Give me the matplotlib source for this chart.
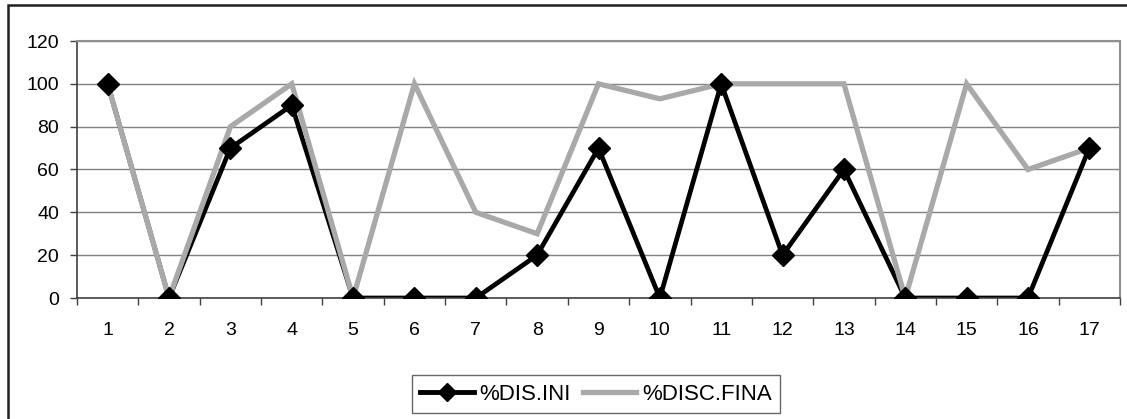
import numpy as np
import matplotlib.pyplot as plt
from matplotlib.patches import Rectangle
from matplotlib.lines import Line2D

plt.rcParams['font.family'] = ['Liberation Sans', 'DejaVu Sans']

categories = [str(i) for i in range(1, 18)]
dis_ini = [100, 0, 70, 90, 0, 0, 0, 20, 70, 0, 100, 20, 60, 0, 0, 0, 70]
disc_fina = [100, 0, 80, 100, 0, 100, 40, 30, 100, 93, 100, 100, 100, 0, 100, 60, 70]

W, H = 1127, 419
fig = plt.figure(figsize=(W / 100, H / 100), dpi=100)
ax = fig.add_axes([77 / W, 1 - 298 / H, (1120 - 77) / W, (298 - 41) / H])

gray = '#a9a9a9'
x = np.arange(len(categories))
# black line under the gray one, markers on top of both
ax.plot(x, dis_ini, color='black', lw=3.4, solid_joinstyle='miter', zorder=2)
ax.plot(x, disc_fina, color=gray, lw=3.8, solid_joinstyle='miter', zorder=3)
ax.plot(x, dis_ini, ls='none', marker='D', markersize=11.5, color='black', zorder=4)

ax.set_xlim(-0.5, len(categories) - 0.5)
ax.set_ylim(0, 120)
ax.set_yticks(range(0, 121, 20))
ax.yaxis.grid(True, color='#808080', lw=1)
ax.set_axisbelow(True)

ax.set_xticks(x)
ax.set_xticklabels(categories)
ax.set_xticks(np.arange(-0.5, len(categories)), minor=True)
ax.tick_params(axis='x', which='major', length=0, pad=17, labelsize=14)
ax.tick_params(axis='x', which='minor', length=5, color='#404040', width=1)
ax.tick_params(axis='y', length=5, color='#404040', width=1, pad=8, labelsize=14)

for side in ['top', 'right']:
    ax.spines[side].set_color('#909090')
    ax.spines[side].set_linewidth(1.5)
for side in ['left', 'bottom']:
    ax.spines[side].set_color('#404040')
    ax.spines[side].set_linewidth(1.2)

handles = [Line2D([], [], color='black', lw=3.5, marker='D', markersize=9),
           Line2D([], [], color=gray, lw=3.8)]
labels = ['%DIS.INI', '%DISC.FINA']
leg = fig.legend(handles, labels, loc='center', ncol=2,
                 bbox_to_anchor=(596 / W, 1 - 394 / H), frameon=True, fancybox=False,
                 edgecolor='#404040', fontsize=16, handlelength=2.4, handletextpad=0.25,
                 columnspacing=0.55, borderpad=0.4)
leg.get_frame().set_linewidth(1)

# outer chart border
fig.patches.append(Rectangle((8 / W, -0.1), 1.2, 1 - 5 / H + 0.1, transform=fig.transFigure,
                             fill=False, edgecolor='#202020', lw=1.8))

fig.savefig('out.png', dpi=100)
